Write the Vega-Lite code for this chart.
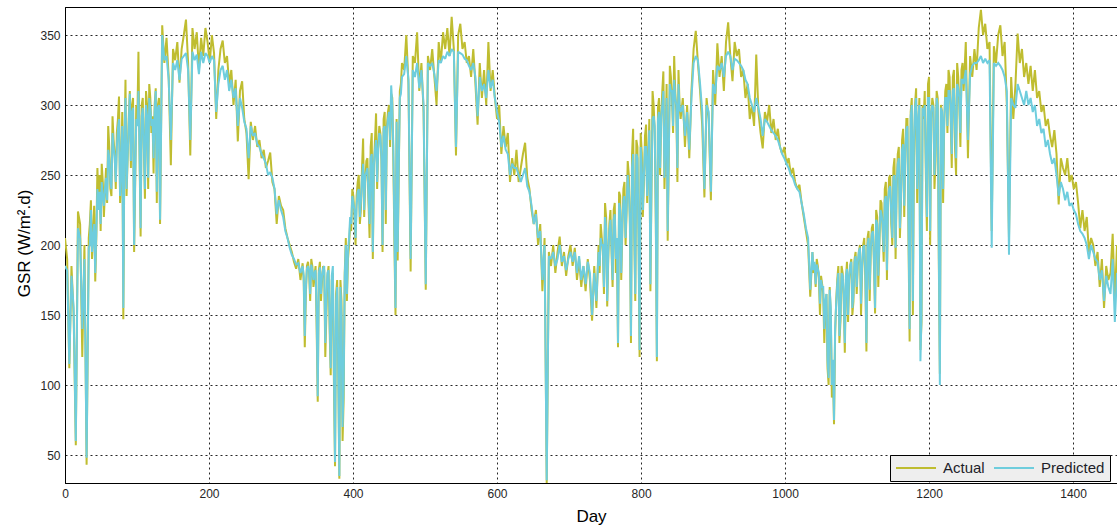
{
  "$schema": "https://vega.github.io/schema/vega-lite/v6.json",
  "width": 1052,
  "height": 476,
  "autosize": "none",
  "padding": {"left": 65, "top": 7, "right": 0, "bottom": 46},
  "background": "white",
  "config": {
    "font": "Liberation Sans",
    "view": {"stroke": "#000", "strokeWidth": 1}
  },
  "data": {"values": [
{"d":0,"a":205,"p":185},{"d":3,"a":190,"p":182},{"d":6,"a":112,"p":115},{"d":9,"a":185,"p":178},{"d":12,"a":150,"p":155},{"d":15,"a":57,"p":60},{"d":18,"a":224,"p":212},{"d":21,"a":215,"p":205},{"d":24,"a":120,"p":140},{"d":27,"a":200,"p":190},{"d":30,"a":43,"p":48},{"d":33,"a":205,"p":198},{"d":36,"a":232,"p":225},{"d":39,"a":210,"p":205},{"d":42,"a":174,"p":180},{"d":45,"a":255,"p":240},{"d":48,"a":250,"p":238},{"d":51,"a":258,"p":245},{"d":54,"a":220,"p":228},{"d":57,"a":255,"p":248},{"d":60,"a":285,"p":268},{"d":63,"a":240,"p":245},{"d":66,"a":292,"p":280},{"d":69,"a":265,"p":262},{"d":72,"a":280,"p":270},{"d":75,"a":306,"p":290},{"d":78,"a":250,"p":258},{"d":81,"a":147,"p":155},{"d":84,"a":318,"p":305},{"d":87,"a":262,"p":265},{"d":90,"a":310,"p":308},{"d":93,"a":300,"p":295},{"d":96,"a":195,"p":200},{"d":99,"a":300,"p":290},
{"d":34.5,"a":215,"p":200},{"d":37.5,"a":190,"p":195},{"d":40.5,"a":228,"p":215},{"d":43.5,"a":205,"p":210},{"d":46.5,"a":232,"p":225},{"d":49.5,"a":210,"p":215},{"d":52.5,"a":245,"p":235},{"d":55.5,"a":238,"p":240},{"d":58.5,"a":230,"p":232},{"d":61.5,"a":270,"p":262},{"d":64.5,"a":235,"p":240},{"d":67.5,"a":275,"p":270},{"d":70.5,"a":240,"p":245},{"d":73.5,"a":290,"p":283},{"d":76.5,"a":230,"p":235},{"d":79.5,"a":295,"p":285},{"d":82.5,"a":270,"p":275},{"d":85.5,"a":235,"p":240},{"d":88.5,"a":290,"p":285},{"d":91.5,"a":255,"p":260},{"d":94.5,"a":305,"p":298},{"d":97.5,"a":245,"p":250},{"d":100.5,"a":290,"p":285},{"d":103.5,"a":265,"p":270},{"d":106.5,"a":300,"p":292},{"d":109.5,"a":270,"p":272},{"d":112.5,"a":310,"p":300},{"d":115.5,"a":240,"p":248},{"d":118.5,"a":305,"p":298},{"d":121.5,"a":292,"p":290},{"d":124.5,"a":300,"p":295},{"d":127.5,"a":230,"p":238},{"d":130.5,"a":305,"p":300},
{"d":102,"a":338,"p":310},{"d":105,"a":206,"p":212},{"d":108,"a":305,"p":298},{"d":111,"a":233,"p":240},{"d":114,"a":300,"p":292},{"d":117,"a":315,"p":305},{"d":120,"a":280,"p":285},{"d":123,"a":251,"p":262},{"d":126,"a":312,"p":310},{"d":129,"a":300,"p":298},{"d":132,"a":215,"p":218},{"d":135,"a":357,"p":350},{"d":138,"a":330,"p":332},{"d":141,"a":348,"p":335},{"d":144,"a":320,"p":318},{"d":147,"a":257,"p":275},{"d":150,"a":340,"p":330},{"d":153,"a":332,"p":325},{"d":156,"a":345,"p":332},{"d":159,"a":316,"p":318},{"d":162,"a":340,"p":333},{"d":165,"a":350,"p":335},{"d":168,"a":361,"p":337},{"d":171,"a":330,"p":325},{"d":174,"a":264,"p":275},{"d":177,"a":355,"p":338},{"d":180,"a":340,"p":332},{"d":183,"a":352,"p":336},{"d":186,"a":325,"p":322},{"d":189,"a":348,"p":338},{"d":192,"a":335,"p":330},{"d":195,"a":355,"p":337},{"d":198,"a":345,"p":335},{"d":201,"a":330,"p":330},
{"d":204,"a":350,"p":335},{"d":207,"a":337,"p":332},{"d":210,"a":290,"p":295},{"d":213,"a":325,"p":315},{"d":216,"a":340,"p":325},{"d":219,"a":346,"p":328},{"d":222,"a":330,"p":318},{"d":225,"a":335,"p":325},{"d":228,"a":315,"p":310},{"d":231,"a":325,"p":318},{"d":234,"a":300,"p":305},{"d":237,"a":318,"p":312},{"d":240,"a":274,"p":285},{"d":243,"a":310,"p":305},{"d":246,"a":317,"p":298},{"d":249,"a":290,"p":288},{"d":252,"a":280,"p":283},{"d":255,"a":247,"p":262},{"d":258,"a":288,"p":285},{"d":261,"a":275,"p":278},{"d":264,"a":285,"p":280},{"d":267,"a":270,"p":272},{"d":270,"a":275,"p":270},{"d":273,"a":262,"p":265},{"d":276,"a":268,"p":262},{"d":279,"a":255,"p":258},{"d":282,"a":260,"p":250},{"d":285,"a":266,"p":252},{"d":288,"a":245,"p":248},{"d":291,"a":240,"p":240},{"d":294,"a":215,"p":222},{"d":297,"a":235,"p":232},{"d":300,"a":228,"p":225},{"d":303,"a":225,"p":220},
{"d":306,"a":212,"p":210},{"d":309,"a":205,"p":205},{"d":312,"a":200,"p":198},{"d":315,"a":195,"p":193},{"d":318,"a":188,"p":190},{"d":321,"a":183,"p":186},{"d":324,"a":190,"p":187},{"d":327,"a":175,"p":180},{"d":330,"a":187,"p":185},{"d":333,"a":127,"p":135},{"d":336,"a":185,"p":183},{"d":339,"a":180,"p":182},{"d":342,"a":190,"p":186},{"d":345,"a":170,"p":175},{"d":348,"a":185,"p":182},{"d":351,"a":88,"p":92},{"d":354,"a":188,"p":184},{"d":357,"a":175,"p":178},{"d":360,"a":182,"p":185},{"d":363,"a":150,"p":160},{"d":366,"a":185,"p":182},{"d":369,"a":107,"p":112},{"d":372,"a":180,"p":185},{"d":375,"a":42,"p":45},{"d":378,"a":175,"p":170},{"d":381,"a":33,"p":35},{"d":384,"a":160,"p":150},{"d":387,"a":90,"p":100},{"d":390,"a":205,"p":200},{"d":393,"a":190,"p":195},{"d":396,"a":215,"p":220},{"d":399,"a":240,"p":235},{"d":402,"a":220,"p":225},{"d":405,"a":235,"p":228},
{"d":331.5,"a":175,"p":178},{"d":334.5,"a":165,"p":170},{"d":337.5,"a":188,"p":185},{"d":340.5,"a":160,"p":165},{"d":343.5,"a":185,"p":182},{"d":346.5,"a":178,"p":180},{"d":349.5,"a":140,"p":150},{"d":352.5,"a":182,"p":180},{"d":355.5,"a":160,"p":165},{"d":358.5,"a":185,"p":183},{"d":361.5,"a":120,"p":130},{"d":364.5,"a":178,"p":180},{"d":367.5,"a":140,"p":148},{"d":370.5,"a":175,"p":178},{"d":373.5,"a":100,"p":110},{"d":376.5,"a":165,"p":160},{"d":379.5,"a":110,"p":115},{"d":382.5,"a":175,"p":170},{"d":385.5,"a":60,"p":70},{"d":388.5,"a":180,"p":178},{"d":391.5,"a":160,"p":165},{"d":394.5,"a":200,"p":205},
{"d":397.5,"a":210,"p":215},{"d":400.5,"a":235,"p":230},{"d":403.5,"a":200,"p":205},{"d":406.5,"a":245,"p":238},{"d":409.5,"a":215,"p":220},{"d":412.5,"a":255,"p":248},{"d":415.5,"a":220,"p":225},{"d":418.5,"a":260,"p":252},{"d":421.5,"a":230,"p":235},{"d":424.5,"a":270,"p":262},{"d":427.5,"a":190,"p":195},{"d":430.5,"a":275,"p":268},{"d":433.5,"a":240,"p":245},{"d":436.5,"a":285,"p":280},{"d":439.5,"a":260,"p":262},{"d":442.5,"a":290,"p":283},{"d":445.5,"a":215,"p":225},{"d":448.5,"a":295,"p":290},{"d":451.5,"a":270,"p":275},{"d":454.5,"a":305,"p":300},{"d":457.5,"a":200,"p":210},{"d":460.5,"a":290,"p":288},{"d":463.5,"a":250,"p":255},{"d":466.5,"a":315,"p":308},
{"d":408,"a":250,"p":240},{"d":411,"a":226,"p":232},{"d":414,"a":276,"p":258},{"d":417,"a":245,"p":250},{"d":420,"a":262,"p":255},{"d":423,"a":205,"p":215},{"d":426,"a":280,"p":265},{"d":429,"a":255,"p":258},{"d":432,"a":294,"p":275},{"d":435,"a":270,"p":268},{"d":438,"a":280,"p":278},{"d":441,"a":195,"p":200},{"d":444,"a":295,"p":285},{"d":447,"a":285,"p":282},{"d":450,"a":300,"p":295},{"d":453,"a":308,"p":314},{"d":456,"a":260,"p":270},{"d":459,"a":150,"p":155},{"d":462,"a":189,"p":195},{"d":465,"a":310,"p":305},{"d":468,"a":330,"p":320},{"d":471,"a":325,"p":322},{"d":474,"a":350,"p":335},{"d":477,"a":315,"p":318},{"d":480,"a":181,"p":190},{"d":483,"a":335,"p":325},{"d":486,"a":330,"p":320},{"d":489,"a":352,"p":330},{"d":492,"a":310,"p":312},{"d":495,"a":330,"p":325},{"d":498,"a":295,"p":300},{"d":501,"a":168,"p":172},{"d":504,"a":335,"p":330},{"d":507,"a":325,"p":328},
{"d":510,"a":340,"p":330},{"d":513,"a":320,"p":322},{"d":516,"a":300,"p":310},{"d":519,"a":345,"p":332},{"d":522,"a":330,"p":330},{"d":525,"a":352,"p":335},{"d":528,"a":340,"p":333},{"d":531,"a":355,"p":338},{"d":534,"a":335,"p":335},{"d":537,"a":363,"p":340},{"d":540,"a":340,"p":338},{"d":543,"a":264,"p":270},{"d":546,"a":350,"p":338},{"d":549,"a":358,"p":337},{"d":552,"a":340,"p":336},{"d":555,"a":345,"p":333},{"d":558,"a":330,"p":332},{"d":561,"a":335,"p":328},{"d":564,"a":320,"p":325},{"d":567,"a":340,"p":330},{"d":570,"a":315,"p":320},{"d":573,"a":286,"p":292},{"d":576,"a":330,"p":320},{"d":579,"a":305,"p":310},{"d":582,"a":325,"p":315},{"d":585,"a":300,"p":305},{"d":588,"a":345,"p":325},{"d":591,"a":310,"p":312},{"d":594,"a":325,"p":318},{"d":597,"a":305,"p":305},{"d":600,"a":290,"p":295},{"d":603,"a":300,"p":288},{"d":606,"a":265,"p":270},{"d":609,"a":285,"p":278},
{"d":612,"a":270,"p":268},{"d":615,"a":280,"p":265},{"d":618,"a":245,"p":250},{"d":621,"a":262,"p":258},{"d":624,"a":250,"p":255},{"d":627,"a":268,"p":255},{"d":630,"a":245,"p":250},{"d":633,"a":255,"p":245},{"d":636,"a":265,"p":250},{"d":639,"a":273,"p":255},{"d":642,"a":248,"p":242},{"d":645,"a":240,"p":238},{"d":648,"a":225,"p":228},{"d":651,"a":215,"p":215},{"d":654,"a":225,"p":222},{"d":657,"a":200,"p":205},{"d":660,"a":215,"p":210},{"d":663,"a":167,"p":175},{"d":666,"a":205,"p":200},{"d":669,"a":30,"p":32},{"d":672,"a":195,"p":192},{"d":675,"a":185,"p":190},{"d":678,"a":200,"p":195},{"d":681,"a":180,"p":185},{"d":684,"a":195,"p":190},{"d":687,"a":206,"p":200},{"d":690,"a":185,"p":188},{"d":693,"a":195,"p":192},{"d":696,"a":178,"p":182},{"d":699,"a":192,"p":190},{"d":702,"a":200,"p":195},{"d":705,"a":185,"p":188},{"d":708,"a":198,"p":195},{"d":711,"a":175,"p":180},
{"d":714,"a":190,"p":192},{"d":717,"a":170,"p":175},{"d":720,"a":185,"p":185},{"d":723,"a":167,"p":172},{"d":726,"a":190,"p":188},{"d":729,"a":175,"p":180},{"d":732,"a":146,"p":150},{"d":735,"a":185,"p":180},{"d":738,"a":155,"p":160},{"d":741,"a":200,"p":195},{"d":744,"a":215,"p":205},{"d":747,"a":195,"p":200},{"d":750,"a":230,"p":220},{"d":753,"a":156,"p":160},{"d":756,"a":215,"p":210},{"d":759,"a":195,"p":200},{"d":762,"a":225,"p":218},{"d":765,"a":180,"p":190},{"d":768,"a":127,"p":130},{"d":771,"a":235,"p":225},{"d":774,"a":210,"p":215},{"d":777,"a":245,"p":235},{"d":780,"a":225,"p":228},{"d":783,"a":250,"p":240},{"d":786,"a":130,"p":135},{"d":789,"a":283,"p":265},{"d":792,"a":160,"p":165},{"d":795,"a":270,"p":262},{"d":798,"a":120,"p":125},{"d":801,"a":266,"p":255},{"d":804,"a":245,"p":250},{"d":807,"a":286,"p":270},{"d":810,"a":260,"p":262},{"d":813,"a":167,"p":172},
{"d":742.5,"a":180,"p":185},{"d":745.5,"a":205,"p":200},{"d":748.5,"a":165,"p":170},{"d":751.5,"a":220,"p":212},{"d":754.5,"a":190,"p":195},{"d":757.5,"a":225,"p":218},{"d":760.5,"a":170,"p":175},{"d":763.5,"a":230,"p":222},{"d":766.5,"a":200,"p":205},{"d":769.5,"a":238,"p":230},{"d":772.5,"a":175,"p":180},{"d":775.5,"a":240,"p":232},{"d":778.5,"a":200,"p":205},{"d":781.5,"a":260,"p":250},{"d":784.5,"a":215,"p":220},{"d":787.5,"a":265,"p":255},{"d":790.5,"a":210,"p":215},{"d":793.5,"a":275,"p":265},{"d":796.5,"a":205,"p":210},{"d":799.5,"a":280,"p":270},{"d":802.5,"a":220,"p":225},{"d":805.5,"a":278,"p":270},{"d":808.5,"a":230,"p":235},{"d":811.5,"a":290,"p":282},{"d":814.5,"a":240,"p":245},{"d":817.5,"a":300,"p":292},{"d":820.5,"a":215,"p":222},{"d":823.5,"a":298,"p":290},{"d":826.5,"a":250,"p":255},{"d":829.5,"a":310,"p":300},{"d":832.5,"a":240,"p":248},{"d":835.5,"a":315,"p":305},{"d":838.5,"a":260,"p":265},{"d":841.5,"a":320,"p":310},{"d":844.5,"a":280,"p":285},{"d":847.5,"a":310,"p":305},{"d":850.5,"a":245,"p":255},{"d":853.5,"a":300,"p":298},
{"d":816,"a":310,"p":290},{"d":819,"a":280,"p":285},{"d":822,"a":117,"p":120},{"d":825,"a":305,"p":295},{"d":828,"a":290,"p":292},{"d":831,"a":324,"p":310},{"d":834,"a":270,"p":275},{"d":837,"a":203,"p":210},{"d":840,"a":328,"p":315},{"d":843,"a":305,"p":310},{"d":846,"a":335,"p":318},{"d":849,"a":295,"p":300},{"d":852,"a":325,"p":315},{"d":855,"a":290,"p":295},{"d":858,"a":305,"p":300},{"d":861,"a":270,"p":278},{"d":864,"a":300,"p":295},{"d":867,"a":262,"p":268},{"d":870,"a":310,"p":305},{"d":873,"a":340,"p":330},{"d":876,"a":353,"p":335},{"d":879,"a":330,"p":332},{"d":882,"a":310,"p":315},{"d":885,"a":285,"p":295},{"d":888,"a":234,"p":240},{"d":891,"a":305,"p":300},{"d":894,"a":290,"p":295},{"d":897,"a":232,"p":238},{"d":900,"a":325,"p":315},{"d":903,"a":300,"p":308},{"d":906,"a":344,"p":328},{"d":909,"a":320,"p":325},{"d":912,"a":335,"p":330},{"d":915,"a":310,"p":320},
{"d":918,"a":345,"p":335},{"d":921,"a":359,"p":338},{"d":924,"a":335,"p":335},{"d":927,"a":317,"p":325},{"d":930,"a":345,"p":333},{"d":933,"a":335,"p":332},{"d":936,"a":340,"p":330},{"d":939,"a":320,"p":328},{"d":942,"a":325,"p":325},{"d":945,"a":305,"p":318},{"d":948,"a":315,"p":315},{"d":951,"a":290,"p":305},{"d":954,"a":300,"p":300},{"d":957,"a":285,"p":295},{"d":960,"a":336,"p":305},{"d":963,"a":295,"p":298},{"d":966,"a":280,"p":290},{"d":969,"a":269,"p":278},{"d":972,"a":295,"p":290},{"d":975,"a":288,"p":288},{"d":978,"a":300,"p":285},{"d":981,"a":280,"p":282},{"d":984,"a":290,"p":280},{"d":987,"a":275,"p":278},{"d":990,"a":283,"p":275},{"d":993,"a":270,"p":270},{"d":996,"a":265,"p":265},{"d":999,"a":270,"p":262},{"d":1002,"a":258,"p":258},{"d":1005,"a":262,"p":255},{"d":1008,"a":250,"p":250},{"d":1011,"a":255,"p":248},{"d":1014,"a":245,"p":243},{"d":1017,"a":240,"p":240},
{"d":1020,"a":243,"p":238},{"d":1023,"a":230,"p":230},{"d":1026,"a":220,"p":222},{"d":1029,"a":210,"p":212},{"d":1032,"a":200,"p":205},{"d":1035,"a":163,"p":168},{"d":1038,"a":195,"p":195},{"d":1041,"a":185,"p":188},{"d":1044,"a":190,"p":186},{"d":1047,"a":175,"p":180},{"d":1050,"a":178,"p":175},{"d":1053,"a":165,"p":170},{"d":1056,"a":155,"p":160},{"d":1059,"a":112,"p":118},{"d":1062,"a":170,"p":168},{"d":1065,"a":91,"p":100},{"d":1068,"a":72,"p":75},{"d":1071,"a":160,"p":158},{"d":1074,"a":185,"p":180},{"d":1077,"a":146,"p":150},{"d":1080,"a":180,"p":178},{"d":1083,"a":123,"p":130},{"d":1086,"a":188,"p":183},{"d":1089,"a":175,"p":178},{"d":1092,"a":190,"p":188},{"d":1095,"a":160,"p":165},{"d":1098,"a":195,"p":192},{"d":1101,"a":185,"p":188},{"d":1104,"a":200,"p":198},{"d":1107,"a":180,"p":185},{"d":1110,"a":205,"p":200},{"d":1113,"a":124,"p":130},{"d":1116,"a":210,"p":205},{"d":1119,"a":195,"p":198},
{"d":1039.5,"a":180,"p":182},{"d":1042.5,"a":170,"p":172},{"d":1045.5,"a":185,"p":183},{"d":1048.5,"a":150,"p":158},{"d":1051.5,"a":172,"p":170},{"d":1054.5,"a":130,"p":140},{"d":1057.5,"a":165,"p":165},{"d":1060.5,"a":100,"p":105},{"d":1063.5,"a":150,"p":155},{"d":1066.5,"a":110,"p":118},{"d":1069.5,"a":135,"p":140},{"d":1072.5,"a":175,"p":172},{"d":1075.5,"a":130,"p":135},{"d":1078.5,"a":185,"p":180},{"d":1081.5,"a":160,"p":165},{"d":1084.5,"a":175,"p":178},{"d":1087.5,"a":145,"p":150},{"d":1090.5,"a":185,"p":185},{"d":1093.5,"a":150,"p":155},{"d":1096.5,"a":190,"p":188},{"d":1099.5,"a":165,"p":170},{"d":1102.5,"a":195,"p":195},{"d":1105.5,"a":150,"p":158},{"d":1108.5,"a":200,"p":198},{"d":1111.5,"a":175,"p":180},{"d":1114.5,"a":205,"p":200},{"d":1117.5,"a":160,"p":168},{"d":1120.5,"a":212,"p":208},
{"d":1122,"a":215,"p":210},{"d":1125,"a":151,"p":155},{"d":1128,"a":220,"p":215},{"d":1131,"a":200,"p":205},{"d":1134,"a":230,"p":222},{"d":1137,"a":188,"p":195},{"d":1140,"a":245,"p":235},{"d":1143,"a":230,"p":232},{"d":1146,"a":250,"p":242},{"d":1149,"a":200,"p":205},{"d":1152,"a":262,"p":250},{"d":1155,"a":240,"p":245},{"d":1158,"a":270,"p":262},{"d":1161,"a":230,"p":235},{"d":1164,"a":283,"p":272},{"d":1167,"a":265,"p":268},{"d":1170,"a":290,"p":285},{"d":1173,"a":131,"p":140},{"d":1176,"a":305,"p":300},{"d":1179,"a":260,"p":275},{"d":1182,"a":312,"p":305},{"d":1185,"a":280,"p":290},{"d":1188,"a":125,"p":117},{"d":1191,"a":300,"p":298},{"d":1194,"a":310,"p":300},{"d":1197,"a":210,"p":220},{"d":1200,"a":320,"p":305},{"d":1203,"a":290,"p":295},{"d":1206,"a":300,"p":298},{"d":1209,"a":260,"p":270},{"d":1212,"a":305,"p":300},{"d":1215,"a":108,"p":100},{"d":1218,"a":295,"p":295},{"d":1221,"a":285,"p":290},
{"d":1123.5,"a":185,"p":190},{"d":1126.5,"a":225,"p":218},{"d":1129.5,"a":170,"p":178},{"d":1132.5,"a":232,"p":225},{"d":1135.5,"a":210,"p":215},{"d":1138.5,"a":240,"p":232},{"d":1141.5,"a":175,"p":182},{"d":1144.5,"a":248,"p":240},{"d":1147.5,"a":215,"p":222},{"d":1150.5,"a":255,"p":248},{"d":1153.5,"a":190,"p":198},{"d":1156.5,"a":265,"p":258},{"d":1159.5,"a":205,"p":212},{"d":1162.5,"a":275,"p":268},{"d":1165.5,"a":220,"p":228},{"d":1168.5,"a":290,"p":283},{"d":1171.5,"a":200,"p":210},{"d":1174.5,"a":295,"p":292},{"d":1177.5,"a":150,"p":160},{"d":1180.5,"a":300,"p":298},{"d":1183.5,"a":230,"p":240},{"d":1186.5,"a":305,"p":300},{"d":1189.5,"a":145,"p":150},{"d":1192.5,"a":290,"p":292},{"d":1195.5,"a":250,"p":260},{"d":1198.5,"a":315,"p":305},{"d":1201.5,"a":200,"p":210},{"d":1204.5,"a":305,"p":300},{"d":1207.5,"a":240,"p":250},{"d":1210.5,"a":310,"p":305},{"d":1213.5,"a":190,"p":200},{"d":1216.5,"a":300,"p":298},{"d":1219.5,"a":230,"p":240},{"d":1222.5,"a":310,"p":305},{"d":1225.5,"a":280,"p":285},{"d":1228.5,"a":320,"p":310},{"d":1231.5,"a":255,"p":265},{"d":1234.5,"a":325,"p":312},{"d":1237.5,"a":250,"p":262},{"d":1240.5,"a":320,"p":312},{"d":1243.5,"a":270,"p":280},{"d":1246.5,"a":330,"p":318},
{"d":1224,"a":315,"p":305},{"d":1227,"a":325,"p":310},{"d":1230,"a":290,"p":300},{"d":1233,"a":320,"p":310},{"d":1236,"a":270,"p":285},{"d":1239,"a":330,"p":315},{"d":1242,"a":300,"p":305},{"d":1245,"a":325,"p":318},{"d":1248,"a":310,"p":315},{"d":1251,"a":345,"p":325},{"d":1254,"a":262,"p":275},{"d":1257,"a":335,"p":322},{"d":1260,"a":320,"p":328},{"d":1263,"a":340,"p":330},{"d":1266,"a":325,"p":330},{"d":1269,"a":355,"p":332},{"d":1272,"a":368,"p":335},{"d":1275,"a":350,"p":330},{"d":1278,"a":358,"p":333},{"d":1281,"a":340,"p":330},{"d":1284,"a":345,"p":332},{"d":1287,"a":210,"p":198},{"d":1290,"a":342,"p":330},{"d":1293,"a":330,"p":328},{"d":1296,"a":350,"p":330},{"d":1299,"a":357,"p":328},{"d":1302,"a":335,"p":325},{"d":1305,"a":345,"p":320},{"d":1308,"a":300,"p":310},{"d":1311,"a":205,"p":193},{"d":1314,"a":320,"p":305},{"d":1317,"a":290,"p":300},{"d":1320,"a":315,"p":298},{"d":1323,"a":351,"p":315},
{"d":1326,"a":330,"p":310},{"d":1329,"a":340,"p":305},{"d":1332,"a":320,"p":300},{"d":1335,"a":330,"p":310},{"d":1338,"a":315,"p":300},{"d":1341,"a":328,"p":305},{"d":1344,"a":310,"p":295},{"d":1347,"a":325,"p":300},{"d":1350,"a":305,"p":285},{"d":1353,"a":310,"p":290},{"d":1356,"a":295,"p":280},{"d":1359,"a":300,"p":283},{"d":1362,"a":285,"p":270},{"d":1365,"a":290,"p":275},{"d":1368,"a":278,"p":265},{"d":1371,"a":270,"p":258},{"d":1374,"a":282,"p":262},{"d":1377,"a":265,"p":250},{"d":1380,"a":229,"p":235},{"d":1383,"a":262,"p":245},{"d":1386,"a":255,"p":240},{"d":1389,"a":250,"p":232},{"d":1392,"a":262,"p":238},{"d":1395,"a":245,"p":228},{"d":1398,"a":250,"p":230},{"d":1401,"a":240,"p":225},{"d":1404,"a":245,"p":222},{"d":1407,"a":230,"p":215},{"d":1410,"a":212,"p":210},{"d":1413,"a":225,"p":208},{"d":1416,"a":210,"p":205},{"d":1419,"a":220,"p":200},{"d":1422,"a":195,"p":190},{"d":1425,"a":205,"p":200},
{"d":1428,"a":200,"p":195},{"d":1431,"a":185,"p":190},{"d":1434,"a":195,"p":188},{"d":1437,"a":170,"p":175},{"d":1440,"a":190,"p":182},{"d":1443,"a":155,"p":160},{"d":1446,"a":185,"p":178},{"d":1449,"a":175,"p":170},{"d":1452,"a":180,"p":165},{"d":1455,"a":208,"p":190},{"d":1458,"a":160,"p":145},{"d":1461,"a":200,"p":180}
  ]},
  "transform": [{"fold": ["a", "p"], "as": ["k", "v"]}],
  "mark": {"type": "line", "strokeWidth": 2, "clip": true, "strokeJoin": "miter", "strokeMiterLimit": 2},
  "encoding": {
    "x": {
      "field": "d", "type": "quantitative", "sort": "ascending",
      "scale": {"domain": [0, 1461], "nice": false, "zero": false},
      "axis": {
        "title": "Day", "values": [0, 200, 400, 600, 800, 1000, 1200, 1400], "format": "d",
        "grid": true, "gridColor": "#000", "gridOpacity": 0.85, "gridDash": [2, 3], "gridWidth": 1,
        "ticks": false, "labelPadding": 5, "labelFontSize": 12, "labelColor": "#262626",
        "labelFont": "Liberation Sans", "domainColor": "#000", "domainWidth": 1,
        "titleFontSize": 17, "titleFontWeight": "normal", "titleColor": "#000", "titleFont": "Liberation Sans",
        "titleX": 526, "titleY": 33, "titleBaseline": "middle", "titleAlign": "center",
        "labelFlush": false
      }
    },
    "y": {
      "field": "v", "type": "quantitative",
      "scale": {"domain": [30, 370], "nice": false, "zero": false},
      "axis": {
        "title": "GSR (W/m².d)", "values": [50, 100, 150, 200, 250, 300, 350],
        "grid": true, "gridColor": "#000", "gridOpacity": 0.85, "gridDash": [2, 3], "gridWidth": 1,
        "ticks": false, "labelPadding": 5, "labelFontSize": 12, "labelColor": "#262626",
        "labelFont": "Liberation Sans", "domainColor": "#000", "domainWidth": 1,
        "titleFontSize": 17, "titleFontWeight": "normal", "titleColor": "#000", "titleFont": "Liberation Sans",
        "titleX": -41, "titleY": 236, "titleAngle": -90, "titleBaseline": "middle", "titleAlign": "center",
        "labelFlush": false
      }
    },
    "color": {
      "field": "k", "type": "nominal",
      "scale": {"domain": ["a", "p"], "range": ["#BFBD30", "#6ECDDD"]},
      "legend": {
        "orient": "none", "legendX": 825, "legendY": 448, "direction": "horizontal",
        "title": null, "fillColor": "#EEEEEE", "strokeColor": "#000", "padding": 5,
        "symbolType": "stroke", "symbolSize": 1600, "symbolStrokeWidth": 2, "clipHeight": 16,
        "labelFontSize": 15, "labelFont": "Liberation Sans", "labelColor": "#1e1e2a",
        "labelOffset": 6, "columnPadding": 8,
        "labelExpr": "datum.label == 'a' ? 'Actual' : 'Predicted'"
      }
    }
  }
}
